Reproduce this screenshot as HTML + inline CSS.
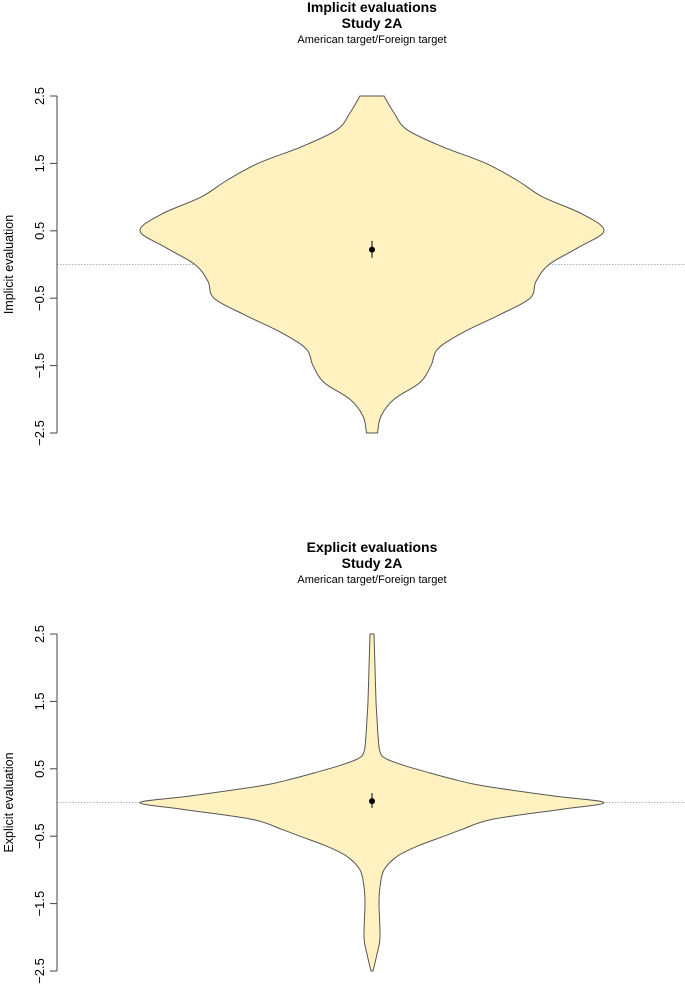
<!DOCTYPE html>
<html><head><meta charset="utf-8"><style>
body{margin:0;background:#fff}
svg{display:block;font-family:"Liberation Sans",sans-serif}
</style></head><body>
<svg id="chart" width="685" height="986" viewBox="0 0 685 986"></svg>
<script>
const ticks = [2.5, 1.5, 0.5, -0.5, -1.5, -2.5];
const tickLabels = ["2.5", "1.5", "0.5", "\u22120.5", "\u22121.5", "\u22122.5"];
const implicitY = [2.5, 2.25, 2.0, 1.75, 1.5, 1.25, 1.0, 0.75, 0.5, 0.25, 0.0, -0.25, -0.5, -0.75, -1.0, -1.25, -1.5, -1.75, -2.0, -2.25, -2.5];
const implicitW = [12, 22, 35, 70, 114, 145, 171, 210, 232, 206, 177, 164, 158, 127, 92, 66, 59, 48, 22, 9, 5.5];
const implicitMean = [0.22];
const implicitCI = [0.10, 0.35];
const explicitY = [2.5, 2.0, 1.5, 1.25, 1.0, 0.75, 0.65, 0.55, 0.45, 0.35, 0.25, 0.1, 0.0, -0.1, -0.25, -0.4, -0.5, -0.65, -0.8, -1.0, -1.25, -1.5, -2.0, -2.25, -2.5];
const explicitW = [2, 3, 4, 5, 6, 8, 14, 32, 55, 80, 110, 180, 232, 190, 120, 90, 72, 45, 25, 12, 8, 7, 8, 5, 1];
const explicitMean = [0.02];
const explicitCI = [-0.08, 0.14];

const svg = document.getElementById('chart');
const NS = 'http://www.w3.org/2000/svg';
function mk(tag, attrs, parent){const e=document.createElementNS(NS,tag);for(const k in attrs)e.setAttribute(k,attrs[k]);(parent||svg).appendChild(e);return e;}

function panel(cfg){
  const g = mk('g', {});
  
  
  const yScale = v => cfg.top + (2.5 - v) / 5 * (cfg.bottom - cfg.top);
  const cx = 372;
  const t1 = mk('text', {x: cx, y: cfg.titleY, 'text-anchor':'middle', 'font-size':14, 'font-weight':'bold'}, g);
  t1.textContent = cfg.title;
  
  
  const t2 = mk('text', {x: cx, y: cfg.titleY + 16, 'text-anchor':'middle', 'font-size':14, 'font-weight':'bold'}, g);
  t2.textContent = 'Study 2A';
  
  
  const t3 = mk('text', {x: cx, y: cfg.titleY + 31, 'text-anchor':'middle', 'font-size':11}, g);
  t3.textContent = 'American target/Foreign target';
  
  
  const z = mk('line', {x1:57, x2:685, y1:yScale(0), y2:yScale(0), stroke:'#999', 'stroke-width':0.8, 'stroke-dasharray':'1.5,1.5'}, g);
  
  
  const pts = [];
  for (let i=0;i<cfg.ys.length;i++) pts.push([cx - cfg.ws[i], yScale(cfg.ys[i])]);
  const rp = [];
  for (let i=cfg.ys.length-1;i>=0;i--) rp.push([cx + cfg.ws[i], yScale(cfg.ys[i])]);
  function cr(p){
    let d = '';
    for (let i=0;i<p.length-1;i++){
      const p0=p[Math.max(0,i-1)], p1=p[i], p2=p[i+1], p3=p[Math.min(p.length-1,i+2)];
      const c1=[p1[0]+(p2[0]-p0[0])/6, p1[1]+(p2[1]-p0[1])/6];
      const c2=[p2[0]-(p3[0]-p1[0])/6, p2[1]-(p3[1]-p1[1])/6];
      d += ` C${c1[0]},${c1[1]} ${c2[0]},${c2[1]} ${p2[0]},${p2[1]}`;
    }
    return d;
  }
  let d = `M${pts[0][0]},${pts[0][1]}` + cr(pts) + ` L${rp[0][0]},${rp[0][1]}` + cr(rp) + ' Z';
  const v = mk('path', {d, fill:'#fff2c0', stroke:'#555', 'stroke-width':1}, g);
  
  
  const ci = mk('line', {x1:cx, x2:cx, y1:yScale(cfg.ci[1]), y2:yScale(cfg.ci[0]), stroke:'#000', 'stroke-width':1}, g);
  
  
  const m = mk('circle', {cx, cy:yScale(cfg.mean[0]), r:3, fill:'#000'}, g);
  
  
  const ax = mk('line', {x1:57, x2:57, y1:yScale(2.5), y2:yScale(-2.5), stroke:'#444', 'stroke-width':1}, g);
  
  
  for (let i=0;i<ticks.length;i++){
    const y = yScale(ticks[i]);
    const tk = mk('line', {x1:50, x2:57, y1:y, y2:y, stroke:'#444', 'stroke-width':1}, g);
    
    
    const tl = mk('text', {x:0, y:0, 'text-anchor':'middle', 'font-size':13, transform:`translate(44,${y}) rotate(-90)`}, g);
    tl.textContent = tickLabels[i];
    
    
  }
  const mid = (yScale(2.5)+yScale(-2.5))/2;
  const at = mk('text', {x:0, y:0, 'text-anchor':'middle', 'font-size':12.5, transform:`translate(13,${mid}) rotate(-90)`}, g);
  at.textContent = cfg.axisTitle;
  
  
}

panel({name:'implicit-panel', top:96, bottom:433, titleY:12, title:'Implicit evaluations', axisTitle:'Implicit evaluation', ys:implicitY, ws:implicitW, mean:implicitMean, ci:implicitCI});
panel({name:'explicit-panel', top:634, bottom:971, titleY:552, title:'Explicit evaluations', axisTitle:'Explicit evaluation', ys:explicitY, ws:explicitW, mean:explicitMean, ci:explicitCI});
</script>
</body></html>
